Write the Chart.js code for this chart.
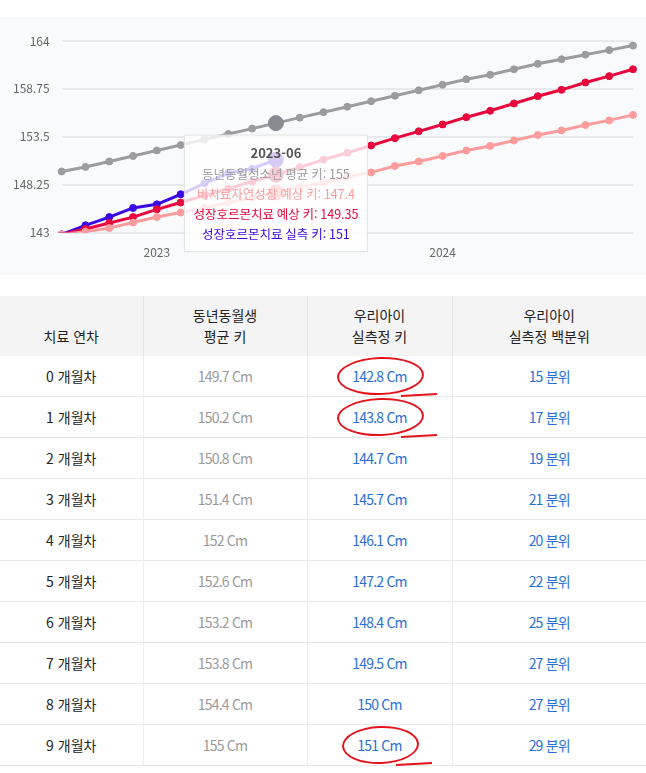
<!DOCTYPE html>
<html lang="ko">
<head>
<meta charset="utf-8">
<title>성장 차트</title>
<script src="https://cdn.jsdelivr.net/npm/chart.js@4.4.1/dist/chart.umd.min.js"></script>
<style>
    body { margin: 0; background: #fff; font-family: 'Noto Sans CJK KR', 'Noto Sans', sans-serif; }
    .chart-box { position: relative; margin-top: 17px; width: 646px; height: 258px; background: #f9fafc; }
    table { margin-top: 21px; width: 646px; border-collapse: collapse; table-layout: fixed; }
    th { background: #f4f4f4; height: 51px; padding: 0 0 9px 0; font-weight: normal; font-size: 14px;
         line-height: 21px; color: #222; vertical-align: bottom; border-left: 1px solid #e6e6e6; }
    td { height: 40px; padding: 0; text-align: center; font-size: 14px; border-bottom: 1px solid #e8e8e8;
         border-left: 1px solid #ececec; }
    th:first-child, td:first-child { border-left: none; }
    td.m { color: #222; }
    td.avg { color: #9a9a9a; letter-spacing: -0.8px; }
    td.act, td.pct { color: #2a6fd6; letter-spacing: -0.8px; }
    .circled { position: relative; }
    .circled::before { content: ''; position: absolute; left: -15px; right: -18px; top: -9px; bottom: -9px;
                       border: 2px solid #e3141c; border-radius: 50%; transform: rotate(-2deg); }
    .circled::after { content: ''; position: absolute; right: -30px; bottom: -10px; width: 36px;
                      border-top: 2px solid #e3141c; transform: rotate(-3deg); }
</style>
</head>
<body>
<div class="chart-box"><canvas id="growthChart"></canvas></div>
<table id="growthTable">
    <colgroup><col style="width:143px"><col style="width:164px"><col style="width:145px"><col></colgroup>
    <thead>
        <tr><th>치료 연차</th><th>동년동월생<br>평균 키</th><th>우리아이<br>실측정 키</th><th>우리아이<br>실측정 백분위</th></tr>
    </thead>
    <tbody></tbody>
</table>
<script>
// 월별 라벨 (치료 시작 2022-09)
var monthLabels = ['2022-09', '2022-10', '2022-11', '2022-12', '2023-01', '2023-02', '2023-03', '2023-04',
    '2023-05', '2023-06', '2023-07', '2023-08', '2023-09', '2023-10', '2023-11', '2023-12', '2024-01',
    '2024-02', '2024-03', '2024-04', '2024-05', '2024-06', '2024-07', '2024-08', '2024-09'];

var peerAvg = [149.7, 150.2, 150.8, 151.4, 152, 152.6, 153.2, 153.8, 154.4, 155, 155.6, 156.2, 156.8,
    157.4, 158, 158.6, 159.2, 159.8, 160.3, 160.9, 161.5, 162, 162.5, 163, 163.5];
var naturalExpected = [142.8, 143.1, 143.5, 144.1, 144.7, 145.2, 145.7, 146.3, 146.8, 147.4, 148, 148.5,
    149.1, 149.6, 150.3, 150.8, 151.4, 152, 152.5, 153.1, 153.7, 154.2, 154.8, 155.3, 155.9];
var treatedExpected = [142.8, 143.4, 144.05, 144.7, 145.55, 146.3, 147.05, 147.8, 148.6, 149.35, 150.15,
    151, 151.75, 152.55, 153.35, 154.1, 154.85, 155.65, 156.35, 157.15, 157.95, 158.65, 159.45, 160.15, 160.9];
var treatedActual = [142.8, 143.8, 144.7, 145.7, 146.1, 147.2, 148.4, 149.5, 150, 151];

var seriesNames = ['동년동월청소년 평균 키', '비치료자연성장 예상 키', '성장호르몬치료 예상 키', '성장호르몬치료 실측 키'];
var seriesColors = ['#9b9ba0', '#fd9c9c', '#e8063c', '#3a06e4'];
var yTicks = [143, 148.25, 153.5, 158.75, 164];

// 표 데이터
var tableMonths = ['0 개월차', '1 개월차', '2 개월차', '3 개월차', '4 개월차', '5 개월차', '6 개월차', '7 개월차', '8 개월차', '9 개월차'];
var tableAvg = [149.7, 150.2, 150.8, 151.4, 152, 152.6, 153.2, 153.8, 154.4, 155];
var tableActual = [142.8, 143.8, 144.7, 145.7, 146.1, 147.2, 148.4, 149.5, 150, 151];
var tablePercentile = [15, 17, 19, 21, 20, 22, 25, 27, 27, 29];
var circledRows = [0, 1, 9];

var tbody = document.querySelector('#growthTable tbody');
tableMonths.forEach(function (m, i) {
    var tr = document.createElement('tr');
    var act = tableActual[i] + ' Cm';
    if (circledRows.indexOf(i) >= 0) act = '<span class="circled">' + act + '</span>';
    tr.innerHTML = '<td class="m">' + m + '</td>' +
        '<td class="avg">' + tableAvg[i] + ' Cm</td>' +
        '<td class="act">' + act + '</td>' +
        '<td class="pct">' + tablePercentile[i] + ' 분위</td>';
    tbody.appendChild(tr);
});

Chart.defaults.font.family = "'Noto Sans CJK KR', 'Noto Sans', sans-serif";
Chart.defaults.color = '#666';

// 툴팁을 가장 위쪽 점 아래에 배치
Chart.Tooltip.positioners.topPoint = function (items) {
    if (!items.length) return false;
    var ys = items.map(function (it) { return it.element.y; });
    return { x: items[0].element.x, y: Math.min.apply(null, ys) };
};

var seriesData = [peerAvg, naturalExpected, treatedExpected, treatedActual];
var datasets = seriesData.map(function (data, i) {
    return {
        label: seriesNames[i],
        data: data,
        borderColor: seriesColors[i],
        backgroundColor: seriesColors[i],
        pointBackgroundColor: seriesColors[i],
        pointBorderColor: seriesColors[i],
        borderWidth: 3,
        pointRadius: 3.5,
        pointBorderWidth: 1,
        pointHoverRadius: 7.5,
        pointHoverBorderWidth: 1,
        tension: 0
    };
});

var ctx = document.getElementById('growthChart').getContext('2d');
var myChart = new Chart(ctx, {
    type: 'line',
    data: { labels: monthLabels, datasets: datasets },
    options: {
        responsive: true,
        maintainAspectRatio: false,
        animation: false,
        layout: { padding: { left: 1, right: 9, top: 24, bottom: 2 } },
        interaction: { mode: 'index', intersect: false },
        plugins: {
            legend: { display: false },
            tooltip: {
                position: 'topPoint',
                xAlign: 'center',
                yAlign: 'top',
                caretSize: 0,
                caretPadding: 12,
                backgroundColor: 'rgba(255,255,255,0.8)',
                borderColor: '#e2e2e2',
                borderWidth: 1,
                cornerRadius: 0,
                padding: { x: 9, y: 10 },
                titleColor: '#555',
                titleFont: { size: 13, weight: 'bold' },
                titleAlign: 'center',
                titleMarginBottom: 6,
                bodyFont: { size: 12.5 },
                bodyAlign: 'center',
                bodySpacing: 5,
                displayColors: false,
                callbacks: {
                    label: function (c) { return c.dataset.label + ': ' + c.parsed.y; },
                    labelTextColor: function (c) { return seriesColors[c.datasetIndex]; }
                }
            }
        },
        scales: {
            x: {
                type: 'category',
                offset: false,
                grid: { display: false, drawTicks: false },
                border: { display: false },
                ticks: {
                    autoSkip: false,
                    maxRotation: 0,
                    padding: 13,
                    font: { size: 12 },
                    callback: function (value) {
                        var lab = this.getLabelForValue(value);
                        return lab.slice(5) === '01' ? lab.slice(0, 4) : '';
                    }
                }
            },
            y: {
                min: yTicks[0],
                max: yTicks[yTicks.length - 1],
                afterBuildTicks: function (scale) {
                    scale.ticks = yTicks.map(function (v) { return { value: v }; });
                },
                grid: { color: '#e8e9ec', lineWidth: 2, drawTicks: false },
                border: { display: false },
                ticks: { padding: 12, font: { size: 12 }, callback: function (v) { return v; } }
            }
        }
    }
});

// 2023-06 툴팁 표시
var activeIdx = monthLabels.indexOf('2023-06');
var active = datasets.map(function (d, i) { return { datasetIndex: i, index: activeIdx }; });
myChart.setActiveElements(active);
myChart.tooltip.setActiveElements(active, { x: 0, y: 0 });
myChart.update();
</script>
</body>
</html>
